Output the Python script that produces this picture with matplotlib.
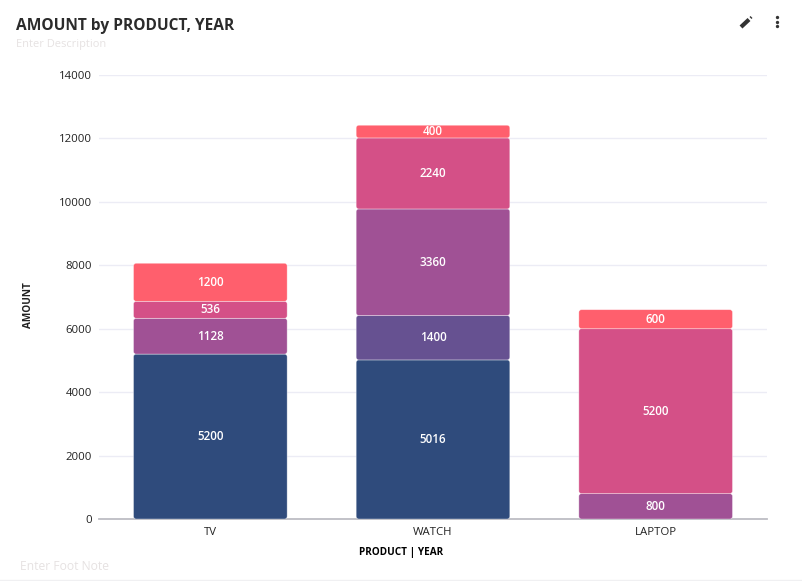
#!/usr/bin/env python3
"""Stacked bars : AMOUNT by PRODUCT, YEAR"""

import matplotlib
matplotlib.use("Agg")
import matplotlib.pyplot as plt
from matplotlib.lines import Line2D
from matplotlib.patches import FancyBboxPatch

W, H = 803, 581

products = ["TV", "WATCH", "LAPTOP"]
navy_values = [5200, 5016, 0]
indigo_values = [0, 1400, 0]
violet_values = [1128, 3360, 800]
pink_values = [536, 2240, 5200]
red_values = [1200, 400, 600]
series = [navy_values, indigo_values, violet_values, pink_values, red_values]
colors = ["#2F4B7C", "#665191", "#A05195", "#D45087", "#FF5F6D"]
y_ticks = [0, 2000, 4000, 6000, 8000, 10000, 12000, 14000]

plt.rcParams["font.family"] = ["Open Sans", "DejaVu Sans"]

fig = plt.figure(figsize=(W / 100, H / 100), dpi=100, facecolor="white")

# axes placed in pixels from the reference
left, right, top, bottom = 99, 767, 75, 519
ax = fig.add_axes([left / W, 1 - bottom / H, (right - left) / W, (bottom - top) / H])
ax.set_xlim(-0.5, 2.5)
ax.set_ylim(0, 14000)

bar_w = 0.69
# y units per x unit on screen, so the corners stay round
aspect = (14000 / (bottom - top)) / (3 / (right - left))
radius = 0.012

for i in range(len(products)):
    base = 0
    for vals, col in zip(series, colors):
        v = vals[i]
        if v == 0:
            continue
        box = FancyBboxPatch((i - bar_w / 2, base), bar_w, v,
                             boxstyle=f"round,pad=0,rounding_size={radius}",
                             mutation_aspect=aspect, facecolor=col,
                             edgecolor="#FFFFFF80", linewidth=0.5, zorder=3)
        ax.add_patch(box)
        ax.annotate(str(v), (i, base + v / 2), xytext=(0, -0.1), textcoords="offset points",
                    ha="center", va="center", color="white",
                    fontsize=8.4, fontweight="semibold", zorder=4)
        base += v

ax.set_yticks(y_ticks)
ax.set_xticks(range(len(products)))
ax.set_xticklabels(products)
ax.tick_params(axis="both", length=0, labelsize=8.2, labelcolor="#222222")
ax.tick_params(axis="x", pad=5.5)
ax.tick_params(axis="y", pad=5)
for lab in ax.get_xticklabels() + ax.get_yticklabels():
    lab.set_fontweight("medium")
ax.grid(axis="y", color="#ECECF5", linewidth=1, zorder=0)
ax.set_axisbelow(True)
for name in ["top", "right", "left"]:
    ax.spines[name].set_visible(False)
ax.spines["bottom"].set_color("#BDBDC4")
ax.spines["bottom"].set_linewidth(1.3)

fig.text(16 / W, 1 - 25.5 / H, "AMOUNT by PRODUCT, YEAR", fontsize=11.2, fontweight="bold",
         color="#2B2B2B", va="center")
fig.text(16 / W, 1 - 45 / H, "Enter Description", fontsize=7.9, color="#E6E2E2", va="center")
fig.text(20 / W, 1 - 566.5 / H, "Enter Foot Note", fontsize=8.7, color="#E6E2E2", va="center")
fig.text(401 / W, 1 - 552.5 / H, "PRODUCT | YEAR", fontsize=7.2, fontweight="bold",
         color="black", ha="center", va="center")
fig.text(29 / W, 1 - 305 / H, "AMOUNT", fontsize=7.2, fontweight="bold", color="#222222",
         rotation=90, ha="center", va="center")

# pencil and menu icons
fig.add_artist(Line2D([741 / W, 749 / W], [1 - 27 / H, 1 - 19.5 / H], color="#333333", lw=3,
                      solid_capstyle="butt"))
fig.add_artist(Line2D([750.5 / W, 751.5 / W], [1 - 18 / H, 1 - 17 / H], color="#333333", lw=2,
                      solid_capstyle="butt"))
fig.add_artist(Line2D([777.5 / W] * 3, [1 - 17 / H, 1 - 21.5 / H, 1 - 25.5 / H], color="#333333",
                      linestyle="none", marker="o", markersize=2.4, markeredgewidth=0))
# bottom border of the card
fig.add_artist(Line2D([0, 1], [1 - 580 / H, 1 - 580 / H], color="#F0F0F2", lw=1))

fig.savefig("out.png", dpi=100)
